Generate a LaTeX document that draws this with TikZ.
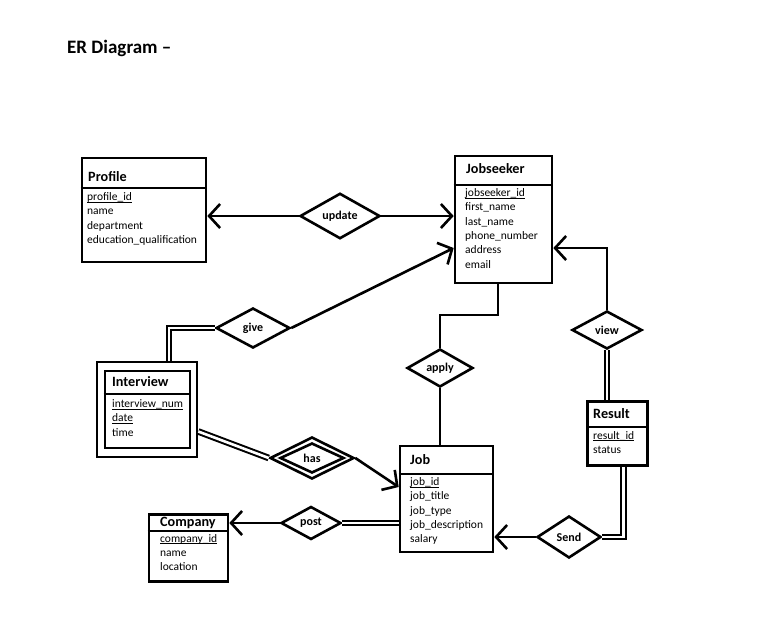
\documentclass[tikz,border=0pt]{standalone}
\usepackage{fontspec}
\setmainfont{Carlito}
\usetikzlibrary{arrows.meta,shapes.geometric,calc}

% key attribute: underline drawn at the level of the underscore
\newcommand\keyattr[1]{\setbox0\hbox{#1}\rlap{\rule[-1.7pt]{\wd0}{0.55pt}}\box0}

\begin{document}
\begin{tikzpicture}[x=1pt,y=-1pt,
  lw/.style={line width=2.6pt},
  entity/.style={draw,lw,rectangle,inner sep=0pt},
  rel/.style={draw,lw,diamond,inner sep=0pt,font=\bfseries\fontsize{12}{14}\selectfont},
  head/.style={anchor=west,inner sep=0pt,text height=1.5ex,text depth=.3ex,font=\bfseries\fontsize{14.2}{16}\selectfont},
  attrs/.style={anchor=north west,inner sep=0pt,align=left,font=\fontsize{11.5}{14.3}\selectfont},
  conn/.style={lw,line join=miter},
  arr/.style={conn,-{Straight Barb[length=11pt,width=24pt]}},
  dbl/.style={line width=2pt,double,double distance=2.6pt}]

\useasboundingbox[fill=white] (0,0) rectangle (775,642);

% title
\node[anchor=west,inner sep=0pt,font=\bfseries\fontsize{19}{21}\selectfont] (title) at (67,48) {ER Diagram –};

% ---------- entities ----------
% Profile
\node[entity,minimum width=124pt,minimum height=104pt] (profile) at (144,210) {};
\draw[lw] (profile.west |- 0,188) -- (profile.east |- 0,188);
\node[head] (profile-h) at (88,179) {Profile};
\node[attrs] (profile-a) at (87,192.5) {\keyattr{profile\_id}\\name\\department\\education\_qualification};

% Jobseeker
\node[entity,minimum width=97pt,minimum height=127pt] (jobseeker) at (503.5,219.5) {};
\draw[lw] (jobseeker.west |- 0,185) -- (jobseeker.east |- 0,185);
\node[head] (jobseeker-h) at (466,170.5) {Jobseeker};
\node[attrs] (jobseeker-a) at (465,188.5) {\keyattr{jobseeker\_id}\\first\_name\\last\_name\\phone\_number\\address\\email};

% Interview (weak entity, double box)
\node[entity,minimum width=100pt,minimum height=95pt] (interview) at (147,409.5) {};
\node[entity,minimum width=85pt,minimum height=77pt] (interview-in) at (147.5,409.5) {};
\draw[lw] (interview-in.west |- 0,394) -- (interview-in.east |- 0,394);
\node[head] (interview-h) at (112,384) {Interview};
\node[attrs] (interview-a) at (112,399.5) {\keyattr{interview\_num}\\\keyattr{date}\\time};

% Job
\node[entity,minimum width=93pt,minimum height=106pt] (job) at (446.5,499) {};
\draw[lw] (job.west |- 0,474) -- (job.east |- 0,474);
\node[head] (job-h) at (410,461.5) {Job};
\node[attrs] (job-a) at (410,477.5) {\keyattr{job\_id}\\job\_title\\job\_type\\job\_description\\salary};

% Result
\node[entity,minimum width=60pt,minimum height=64pt] (result) at (617.5,433.5) {};
\draw[lw] (result.west |- 0,427) -- (result.east |- 0,427);
\node[head] (result-h) at (593,416) {Result};
\node[attrs] (result-a) at (593,431) {\keyattr{result\_id}\\status};

% Company
\node[entity,minimum width=79pt,minimum height=67pt] (company) at (188.5,548) {};
\draw[lw] (company.west |- 0,531) -- (company.east |- 0,531);
\node[head] (company-h) at (160,523.5) {Company};
\node[attrs] (company-a) at (160,534) {\keyattr{company\_id}\\name\\location};

% ---------- relationships ----------
\node[rel,minimum width=80pt,minimum height=44pt] (update) at (340,216) {update};
\node[rel,minimum width=74pt,minimum height=40pt] (give) at (253,328) {give};
\node[rel,minimum width=66pt,minimum height=38pt] (apply) at (440,368) {apply};
\node[rel,minimum width=70pt,minimum height=38pt] (view) at (607,330) {view};
\node[rel,minimum width=84pt,minimum height=42pt] (has) at (312,458) {};
\node[rel,minimum width=64pt,minimum height=30pt] (has-in) at (312,458) {has};
\node[rel,minimum width=60pt,minimum height=33pt] (post) at (311,523) {post};
\node[rel,minimum width=64pt,minimum height=42pt] (send) at (569,537) {Send};

% ---------- connectors ----------
\draw[arr] (update.west) -- (update.west -| profile.east);
\draw[arr] (update.east) -- (update.east -| jobseeker.west);
\draw[arr] (give.east) -- ($(jobseeker.west)+(0,28.5)$);
\draw[dbl] (give.west) -| ($(interview.north)+(22,0)$);
\draw[arr] (view.north) |- ($(jobseeker.east)+(0,28.5)$);
\draw[dbl] (view.south) -- (view.south |- result.north);
\draw[conn] (apply.north) |- (470,315) -| ($(jobseeker.south)+(-5.5,0)$);
\draw[conn] (apply.south) -- (apply.south |- job.north);
\draw[dbl] ($(interview.east)+(0,22)$) -- (has.west);
\draw[arr] (has.east) -- ($(job.west)+(0,-12)$);
\draw[dbl] ($(result.south)+(6,0)$) |- (send.east);
\draw[arr] (send.west) -- (send.west -| job.east);
\draw[dbl] (post.east) -- (post.east -| job.west);
\draw[arr] (post.west) -- (post.west -| company.east);

\end{tikzpicture}
\end{document}
